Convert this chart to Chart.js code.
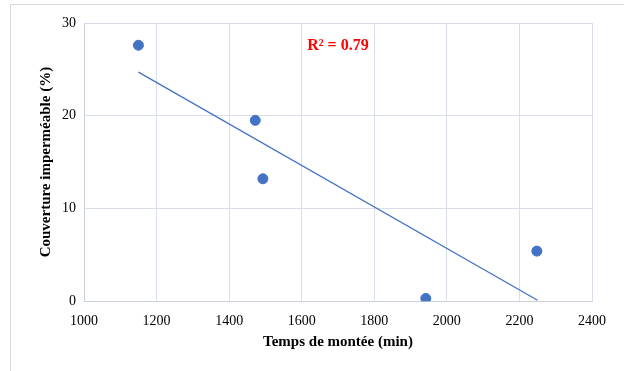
<!DOCTYPE html>
<html>
<head>
<meta charset="utf-8">
<script src="https://cdn.jsdelivr.net/npm/chart.js@4"></script>
<style>
  html, body { margin: 0; padding: 0; background: #fff; }
  #wrap { position: relative; width: 624px; height: 371px; }
  #frame { position: absolute; left: 10px; top: 4px; width: 640px; height: 400px; border: 1px solid #d9d9d9; }
  canvas { position: absolute; left: 0; top: 0; }
</style>
</head>
<body>
<div id="wrap">
  <div id="frame"></div>
  <canvas id="myChart" width="624" height="371"></canvas>
</div>
<script>
// Données
const tempsMontee = [1150, 1472, 1493, 1942, 2248];
const couverture = [27.6, 19.5, 13.2, 0.3, 5.4];
const trendX = [1150, 2250];
const trendY = [24.7, 0.1];
const xTicks = [1000, 1200, 1400, 1600, 1800, 2000, 2200, 2400];
const yTicks = [0, 10, 20, 30];
const r2Label = 'R² = 0.79';

const serif = '"Liberation Serif", "Times New Roman", serif';

// texte R² dans le graphique
const r2Plugin = {
    id: 'r2Text',
    afterDatasetsDraw(chart) {
        const c = chart.ctx;
        const x = chart.scales.x.getPixelForValue(1700);
        const y = chart.scales.y.getPixelForValue(27.5);
        c.save();
        c.font = 'bold 16px ' + serif;
        c.fillStyle = '#ff0000';
        c.textAlign = 'center';
        c.textBaseline = 'middle';
        c.fillText(r2Label, x, y);
        c.restore();
    }
};

const ctx = document.getElementById('myChart').getContext('2d');
const myChart = new Chart(ctx, {
    type: 'scatter',
    data: {
        datasets: [{
            label: 'Points',
            data: tempsMontee.map((t, i) => ({ x: t, y: couverture[i] })),
            backgroundColor: '#4472c4',
            borderColor: '#4472c4',
            pointRadius: 5,
            pointHoverRadius: 5
        }, {
            type: 'line',
            label: 'Tendance',
            data: trendX.map((t, i) => ({ x: t, y: trendY[i] })),
            borderColor: '#4472c4',
            borderWidth: 1.3,
            pointRadius: 0,
            fill: false
        }]
    },
    options: {
        responsive: false,
        animation: false,
        layout: { padding: { left: 33, right: 32, top: 23, bottom: 5 } },
        plugins: {
            legend: { display: false },
            tooltip: { enabled: false }
        },
        scales: {
            x: {
                type: 'linear',
                min: 1000,
                max: 2400,
                afterBuildTicks: (s) => { s.ticks = xTicks.map(v => ({ value: v })); },
                grid: { color: '#d9dee9', lineWidth: 1, drawTicks: false },
                border: { color: '#c9d0de' },
                ticks: {
                    color: '#000', padding: 12, font: { family: serif, size: 14 },
                    callback: (v) => String(v)
                },
                title: {
                    display: true,
                    text: 'Temps de montée (min)',
                    color: '#000',
                    font: { family: serif, size: 15, weight: 'bold' },
                    padding: { top: -9, bottom: 15 }
                }
            },
            y: {
                min: 0,
                max: 30,
                afterBuildTicks: (s) => { s.ticks = yTicks.map(v => ({ value: v })); },
                grid: { color: '#d9dee9', lineWidth: 1, drawTicks: false },
                border: { color: '#c9d0de' },
                ticks: {
                    color: '#000', padding: 8, font: { family: serif, size: 14 },
                    callback: (v) => String(v)
                },
                title: {
                    display: true,
                    text: 'Couverture imperméable (%)',
                    color: '#000',
                    font: { family: serif, size: 15, weight: 'bold' },
                    padding: { top: 4, bottom: -1 }
                }
            }
        }
    },
    plugins: [r2Plugin]
});
</script>
</body>
</html>
